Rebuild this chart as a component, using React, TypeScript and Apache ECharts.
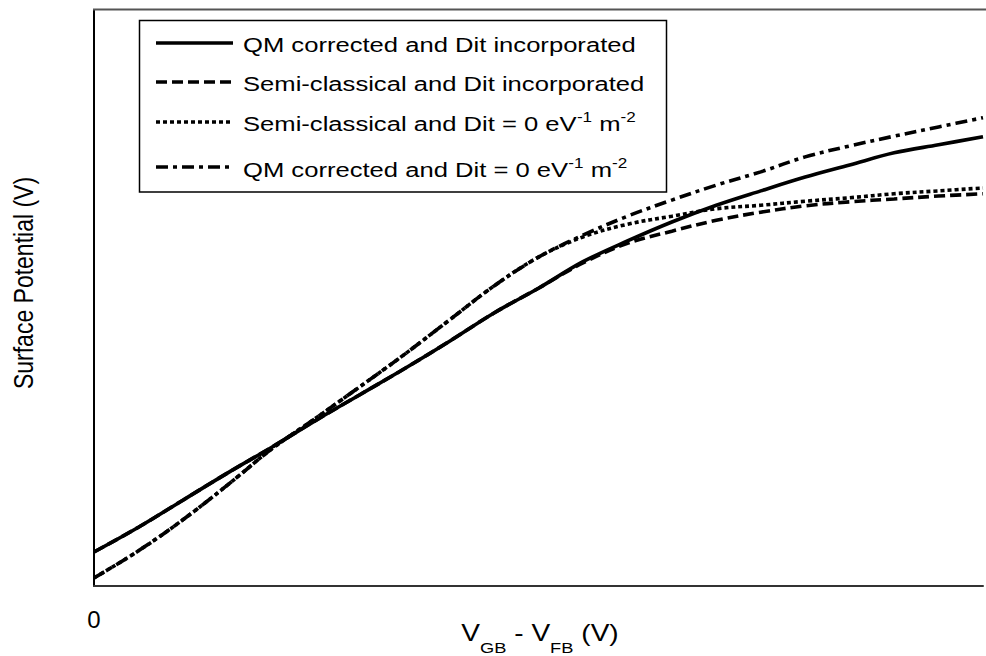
import React, { useEffect, useRef } from "react";
import * as echarts from "echarts";

// ---- data ----
const xValues = [0, 0.1, 0.2, 0.3, 0.4, 0.5, 0.6, 0.7, 0.8, 0.9, 1.0, 1.1, 1.2, 1.3, 1.4, 1.5, 1.6, 1.7, 1.8, 1.9, 2.0];
const qmDit = [0.059, 0.102, 0.149, 0.196, 0.241, 0.288, 0.333, 0.378, 0.425, 0.474, 0.517, 0.563, 0.599, 0.632, 0.661, 0.686, 0.71, 0.731, 0.752, 0.766, 0.78];
const scDit = [0.059, 0.102, 0.149, 0.196, 0.241, 0.288, 0.333, 0.378, 0.425, 0.474, 0.517, 0.561, 0.595, 0.616, 0.635, 0.649, 0.66, 0.667, 0.672, 0.677, 0.681];
const scNoDit = [0.014, 0.061, 0.115, 0.175, 0.238, 0.292, 0.347, 0.403, 0.462, 0.521, 0.571, 0.606, 0.628, 0.642, 0.655, 0.661, 0.668, 0.674, 0.681, 0.686, 0.691];
const qmNoDit = [0.014, 0.061, 0.115, 0.175, 0.238, 0.292, 0.347, 0.403, 0.462, 0.521, 0.571, 0.609, 0.642, 0.67, 0.696, 0.719, 0.745, 0.764, 0.781, 0.797, 0.813];
const xTickLabels = ["0"];
const seriesNames = [
  "QM corrected and Dit incorporated",
  "Semi-classical and Dit incorporated",
  "Semi-classical and Dit = 0 eV-1 m-2",
  "QM corrected and Dit = 0 eV-1 m-2",
];
const legendRich = [
  "{m|QM corrected and Dit incorporated}",
  "{m|Semi-classical and Dit incorporated}",
  "{m|Semi-classical and Dit = 0 eV}{s|-1}{m| m}{s|-2}",
  "{m|QM corrected and Dit = 0 eV}{s|-1}{m| m}{s|-2}",
];
const xTitleRich = "{m|V}{b|GB}{m| - V}{b|FB}{m| (V)}";
const yTitle = "Surface Potential (V)";

const FONT = '"Liberation Sans", Arial, Helvetica, sans-serif';
const SX = 1.22;
const LW = 3.6;
const dashes: any[] = ["solid", [11, 5], [4, 3], [12, 5, 4, 5]];

function pairs(ys: number[]) {
  return xValues.map((x, i) => [x, ys[i]]);
}

export default function App() {
  const ref = useRef<HTMLDivElement>(null);
  useEffect(() => {
    document.body.style.margin = "0";
    if (!ref.current) return;
    const chart = echarts.init(ref.current, null, { renderer: "svg" });
    const legendRowsY = [43, 82.5, 122, 168];
    const legendLineY = [43, 82, 122, 167];
    const legendGraphics: any[] = [
      {
        type: "rect",
        shape: { x: 139.5, y: 20.5, width: 527, height: 171.5 },
        style: { fill: "#fff", stroke: "#000", lineWidth: 1.5 },
        z: 10,
      },
    ];
    for (let i = 0; i < 4; i++) {
      legendGraphics.push({
        type: "line",
        shape: { x1: 156, y1: legendLineY[i], x2: 233, y2: legendLineY[i] },
        style: {
          stroke: "#000",
          lineWidth: LW,
          lineDash: dashes[i] === "solid" ? null : dashes[i],
        },
        z: 11,
      });
      legendGraphics.push({
        type: "text",
        x: 243,
        y: legendRowsY[i],
        scaleX: SX,
        z: 11,
        style: {
          text: legendRich[i],
          align: "left",
          verticalAlign: "middle",
          fill: "#000",
          fontFamily: FONT,
          fontSize: 21,
          rich: {
            m: { fontSize: 21, lineHeight: 24, verticalAlign: "bottom", fontFamily: FONT, fill: "#000" },
            s: { fontSize: 14, lineHeight: 14, verticalAlign: "top", fontFamily: FONT, fill: "#000" },
          },
        },
      });
    }

    const order = [1, 2, 0, 3];
    const data = [qmDit, scDit, scNoDit, qmNoDit];
    const option: any = {
      animation: false,
      backgroundColor: "#fff",
      grid: { left: 94, right: 0, top: 10, bottom: 70, containLabel: false },
      xAxis: {
        type: "value",
        min: 0,
        max: 2,
        interval: 2,
        axisLine: { show: true, lineStyle: { color: "#333", width: 2 } },
        axisTick: { show: false },
        splitLine: { show: false },
        axisLabel: {
          show: true,
          margin: 21,
          fontSize: 24,
          fontFamily: FONT,
          color: "#000",
          formatter: (v: number) => (v === 0 ? xTickLabels[0] : ""),
        },
      },
      yAxis: {
        type: "value",
        min: 0,
        max: 1,
        axisLine: { show: true, lineStyle: { color: "#000", width: 2 } },
        axisTick: { show: false },
        splitLine: { show: false },
        axisLabel: { show: false },
      },
      series: order.map((i) => ({
        name: seriesNames[i],
        type: "line",
        data: pairs(data[i]),
        showSymbol: false,
        symbol: "none",
        smooth: 0.35,
        lineStyle: { color: "#000", width: LW, type: dashes[i], cap: "butt" },
        z: 2 + i,
      })),
      graphic: [
        {
          type: "line",
          shape: { x1: 93, y1: 9.5, x2: 990, y2: 9.5 },
          style: { stroke: "#555", lineWidth: 2 },
          z: 5,
        },
        ...legendGraphics,
        {
          type: "text",
          x: 540,
          y: 621,
          scaleX: SX,
          style: {
            text: xTitleRich,
            align: "center",
            verticalAlign: "top",
            fill: "#000",
            fontFamily: FONT,
            fontSize: 23,
            rich: {
              m: { fontSize: 23, lineHeight: 35, verticalAlign: "top", fontFamily: FONT, fill: "#000" },
              b: { fontSize: 15, lineHeight: 15, verticalAlign: "bottom", fontFamily: FONT, fill: "#000" },
            },
          },
        },
        {
          type: "text",
          x: 23,
          y: 283,
          rotation: Math.PI / 2,
          scaleY: SX,
          style: {
            text: yTitle,
            align: "center",
            verticalAlign: "middle",
            fill: "#000",
            fontFamily: FONT,
            fontSize: 23,
          },
        },
      ],
    };
    chart.setOption(option);
    return () => chart.dispose();
  }, []);
  return (
    <div
      ref={ref}
      style={{ width: 986, height: 656, position: "absolute", left: 0, top: 0 }}
    />
  );
}
